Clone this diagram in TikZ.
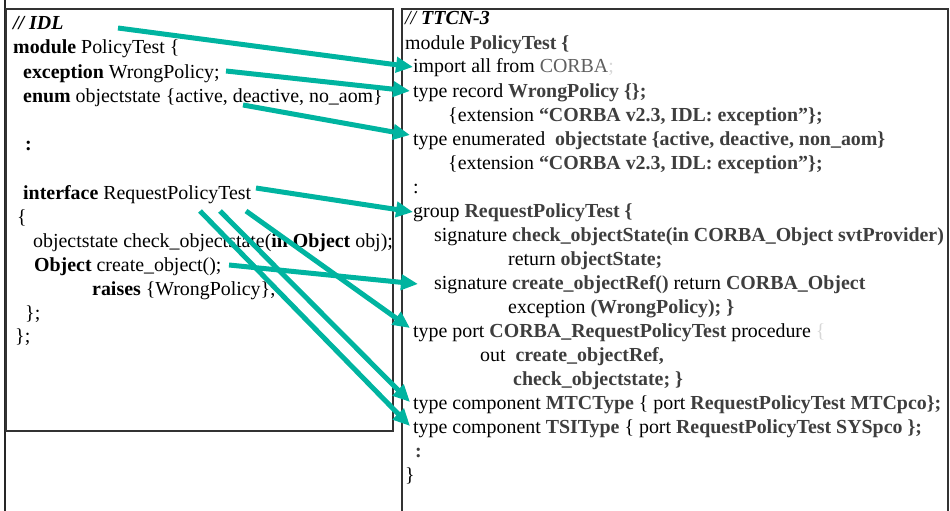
\documentclass[tikz,border=0pt]{standalone}
\usepackage{fontspec}
\setmainfont{Liberation Serif}
\usetikzlibrary{arrows.meta}
\definecolor{teal1}{RGB}{0,180,160}
\definecolor{bgray}{RGB}{62,62,62}
\definecolor{cgray}{RGB}{95,95,95}
\definecolor{lgray}{RGB}{215,215,215}
\newcommand{\bk}[1]{\textbf{\textcolor{bgray}{#1}}}
\begin{document}
\begin{tikzpicture}[x=1pt,y=-1pt,
  txt/.style={anchor=base west, inner sep=0pt, font=\fontsize{19.9}{24}\selectfont},
  link/.style={draw=teal1, line width=5pt, -{Triangle[length=17pt,width=15pt]}},
  frame/.style={draw=black!80, line width=1.2pt}]
\useasboundingbox (0,0) rectangle (950,511);
% frames
\draw[draw=black!85, line width=2.5pt] (5,0) -- (5,511);
\draw[frame] (6,9) rectangle (393,431);
\draw[frame] (402,511) -- (402,9) -- (948,9) -- (948,511);
% left text
\node[txt] (l1) at (13,30) {\textbf{\textit{// IDL}}};
\node[txt] (l2) at (13,54) {\textbf{module} PolicyTest \{};
\node[txt] (l3) at (23,78) {\textbf{exception} WrongPolicy;};
\node[txt] (l4) at (23,102) {\textbf{enum} objectstate \{active, deactive, no\_aom\}};
\node[txt] (l5) at (25,150) {\textbf{:}};
\node[txt] (l6) at (23,199) {\textbf{interface} RequestPolicyTest};
\node[txt] (l7) at (17,223) {\{};
\node[txt] (l8) at (33,247) {objectstate check\_objectstate(\textbf{in Object} obj);};
\node[txt] (l9) at (34,271) {\textbf{Object} create\_object();};
\node[txt] (l10) at (92,295) {\textbf{raises} \{WrongPolicy\};};
\node[txt] (l11) at (25,319) {\};};
\node[txt] (l12) at (15,342) {\};};
% right text
\node[txt] (r1) at (405,25) {\textit{// \textbf{TTCN-3}}};
\node[txt] (r2) at (405,49) {module \bk{PolicyTest \{}};
\node[txt] (r3) at (413,73) {import all from \textcolor{cgray}{CORBA}\textcolor{lgray}{;}};
\node[txt] (r4) at (413,97) {type record \bk{WrongPolicy \{\};}};
\node[txt] (r5) at (448,121) {\{extension \bk{“CORBA v2.3, IDL: exception”\};}};
\node[txt] (r6) at (413,145) {type enumerated\ \ \bk{objectstate \{active, deactive, non\_aom\}}};
\node[txt] (r7) at (448,169) {\{extension \bk{“CORBA v2.3, IDL: exception”\};}};
\node[txt] (r8) at (413,193) {:};
\node[txt] (r9) at (413,217) {group \bk{RequestPolicyTest \{}};
\node[txt] (r10) at (434,241) {signature \bk{check\_objectState(in CORBA\_Object svtProvider)}};
\node[txt] (r11) at (508,265) {return \bk{objectState;}};
\node[txt] (r12) at (434,289) {signature \bk{create\_objectRef()} return \bk{CORBA\_Object}};
\node[txt] (r13) at (508,313) {exception \bk{(WrongPolicy); \}}};
\node[txt] (r14) at (413,337) {type port \bk{CORBA\_RequestPolicyTest} procedure \textcolor{lgray}{\{}};
\node[txt] (r15) at (480,361) {out\ \ \bk{create\_objectRef,}};
\node[txt] (r16) at (513,385) {\bk{check\_objectstate; \}}};
\node[txt] (r17) at (413,409) {type component \bk{MTCType} \{ port \bk{RequestPolicyTest MTCpco\};}};
\node[txt] (r18) at (413,433) {type component \bk{TSIType} \{ port \bk{RequestPolicyTest SYSpco \};}};
\node[txt] (r19) at (415,457) {\bk{:}};
\node[txt] (r20) at (405,481) {\}};
% arrow endpoints
\coordinate (s1) at (118,28);
\coordinate (e1) at (413,67);
\coordinate (s2) at (226,71);
\coordinate (e2) at (410,91);
\coordinate (s3) at (243,105);
\coordinate (e3) at (410,135);
\coordinate (s4) at (256,188);
\coordinate (e4) at (413,212);
\coordinate (s5) at (229,265);
\coordinate (e5) at (418,284);
\coordinate (s6) at (246,211);
\coordinate (e6) at (410,328);
\coordinate (s7) at (220,211);
\coordinate (e7) at (410,402);
\coordinate (s8) at (200,211);
\coordinate (e8) at (410,426);
\foreach \i in {1,...,8} { \draw[link] (s\i) -- (e\i); }
\end{tikzpicture}
\end{document}
